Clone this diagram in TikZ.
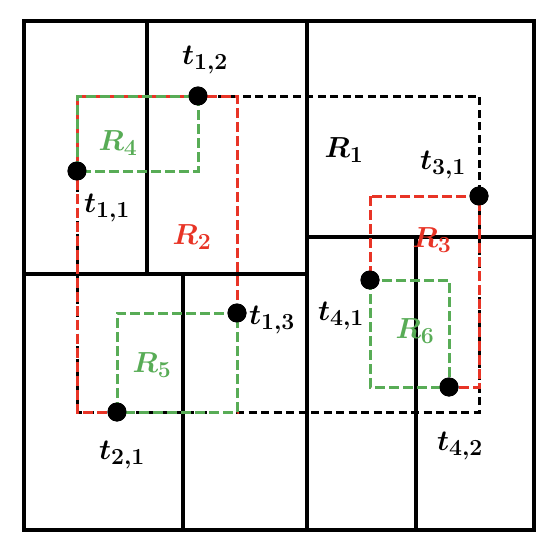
\RequirePackage{fix-cm}
\documentclass[tikz,border=0pt]{standalone}
\usepackage{xcolor}
\usepackage{tikz}
\usetikzlibrary{positioning, calc}
\DeclareMathSizes{29}{29}{23}{18}
\definecolor{regred}{RGB}{232,52,38}
\definecolor{reggreen}{RGB}{88,172,86}
\tikzset{
    wall/.style={line width=4pt, line cap=rect},
    pt/.style={circle, fill=black, inner sep=0pt, minimum size=19pt},
    lbl/.style={inner sep=1pt, font=\fontsize{29}{34}\selectfont\boldmath},
    blackreg/.style={line width=3pt, black, dash pattern=on 8pt off 4.5pt},
    redreg/.style={line width=3pt, regred, dash pattern=on 10pt off 4pt},
    greenreg/.style={line width=3pt, reggreen, dash pattern=on 10pt off 4pt}
}

\begin{document}
\begin{tikzpicture}[x=1pt, y=-1pt]
    \useasboundingbox (0,0) rectangle (558,546);

    % --- Partition ---
    \draw[wall] (24,21) rectangle (534,530);
    \draw[wall] (147,21) -- (147,274);
    \draw[wall] (24,274) -- (307,274);
    \draw[wall] (307,21) -- (307,530);
    \draw[wall] (307,237) -- (534,237);
    \draw[wall] (416,237) -- (416,530);
    \draw[wall] (183,274) -- (183,530);

    % --- Points ---
    \node[pt] (t11) at (77,171) {};
    \node[pt] (t12) at (198,96) {};
    \node[pt] (t13) at (237,313) {};
    \node[pt] (t21) at (117,412) {};
    \node[pt] (t31) at (479,196) {};
    \node[pt] (t41) at (370,280) {};
    \node[pt] (t42) at (449,387) {};

    % --- Regions ---
    % R1
    \draw[blackreg] (t11.center |- t12.center) rectangle (t31.center |- t21.center);
    % R2 and R3
    \draw[redreg] (t11.center |- t12.center) rectangle (t13.center |- t21.center);
    \draw[redreg] (t41.center |- t31.center) rectangle (t31.center |- t42.center);
    % R4, R5 and R6
    \draw[greenreg] (t11.center) rectangle (t12.center);
    \draw[greenreg] (t21.center) rectangle (t13.center);
    \draw[greenreg] (t41.center) rectangle (t42.center);

    % dots on top
    \foreach \p in {t11,t12,t13,t21,t31,t41,t42}
        \fill (\p) circle (9.5pt);

    % --- Labels ---
    \node[lbl] (lt12) at (205,60) {$t_{1,2}$};
    \node[lbl] (lt11) at (107,208) {$t_{1,1}$};
    \node[lbl] (lt13) at (272,320) {$t_{1,3}$};
    \node[lbl] (lt21) at (122,455) {$t_{2,1}$};
    \node[lbl] (lt31) at (443,165) {$t_{3,1}$};
    \node[lbl] (lt41) at (341,316) {$t_{4,1}$};
    \node[lbl] (lt42) at (460,446) {$t_{4,2}$};

    \node[lbl] (lR1) at (344,150) {$R_1$};
    \node[lbl, regred] (lR2) at (192,237) {$R_2$};
    \node[lbl, regred] (lR3) at (432,240) {$R_3$};
    \node[lbl, reggreen] (lR4) at (118,143) {$R_4$};
    \node[lbl, reggreen] (lR5) at (152,365) {$R_5$};
    \node[lbl, reggreen] (lR6) at (415,331) {$R_6$};

\end{tikzpicture}
\end{document}
